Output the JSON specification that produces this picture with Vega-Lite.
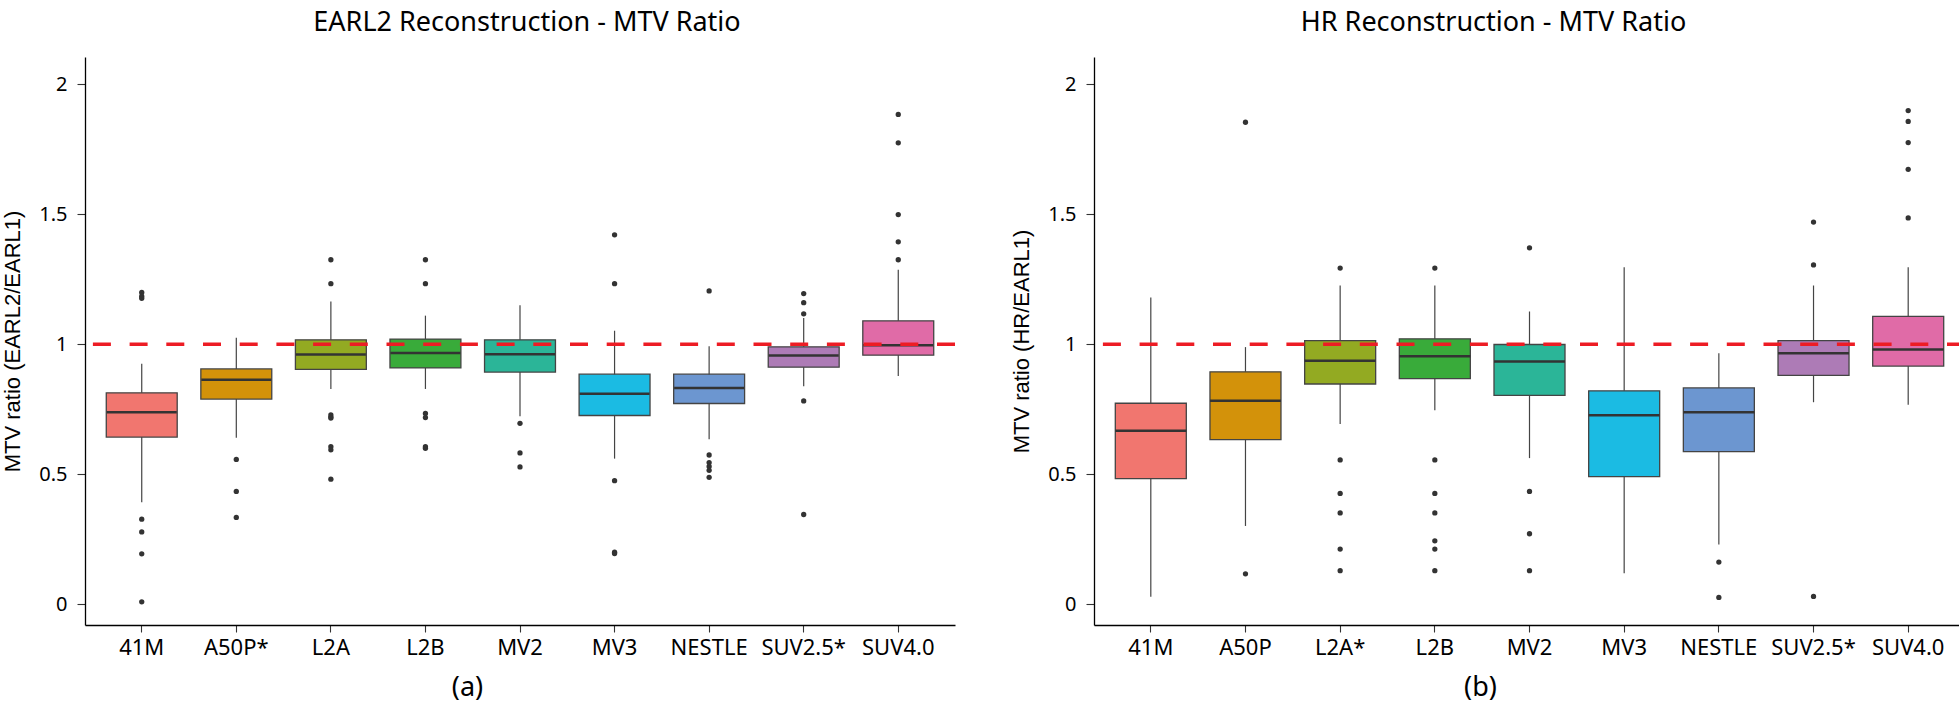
{
  "$schema": "https://vega.github.io/schema/vega-lite/v6.json",
  "background": "white",
  "padding": {"left": 1, "top": 9, "right": 0, "bottom": 4},
  "datasets": {
    "earl2_box": [
      {"label": "41M", "grp": "41M", "lo": 0.392, "q1": 0.643, "med": 0.738, "q3": 0.813, "hi": 0.925},
      {"label": "A50P*", "grp": "A50P", "lo": 0.640, "q1": 0.789, "med": 0.863, "q3": 0.905, "hi": 1.025},
      {"label": "L2A", "grp": "L2A", "lo": 0.828, "q1": 0.903, "med": 0.961, "q3": 1.017, "hi": 1.164},
      {"label": "L2B", "grp": "L2B", "lo": 0.828, "q1": 0.909, "med": 0.966, "q3": 1.020, "hi": 1.110},
      {"label": "MV2", "grp": "MV2", "lo": 0.723, "q1": 0.893, "med": 0.962, "q3": 1.017, "hi": 1.150},
      {"label": "MV3", "grp": "MV3", "lo": 0.560, "q1": 0.726, "med": 0.810, "q3": 0.885, "hi": 1.052},
      {"label": "NESTLE", "grp": "NESTLE", "lo": 0.635, "q1": 0.772, "med": 0.832, "q3": 0.885, "hi": 0.992},
      {"label": "SUV2.5*", "grp": "SUV2.5", "lo": 0.838, "q1": 0.912, "med": 0.957, "q3": 0.990, "hi": 1.101},
      {"label": "SUV4.0", "grp": "SUV4.0", "lo": 0.878, "q1": 0.958, "med": 0.996, "q3": 1.090, "hi": 1.287}
    ],
    "earl2_out": [
      {"label": "41M", "v": 1.199}, {"label": "41M", "v": 1.185}, {"label": "41M", "v": 1.177},
      {"label": "41M", "v": 0.327}, {"label": "41M", "v": 0.278}, {"label": "41M", "v": 0.194}, {"label": "41M", "v": 0.009},
      {"label": "A50P*", "v": 0.557}, {"label": "A50P*", "v": 0.434}, {"label": "A50P*", "v": 0.334},
      {"label": "L2A", "v": 1.325}, {"label": "L2A", "v": 1.233}, {"label": "L2A", "v": 0.728}, {"label": "L2A", "v": 0.720},
      {"label": "L2A", "v": 0.716}, {"label": "L2A", "v": 0.606}, {"label": "L2A", "v": 0.594}, {"label": "L2A", "v": 0.481},
      {"label": "L2B", "v": 1.325}, {"label": "L2B", "v": 1.233}, {"label": "L2B", "v": 0.734}, {"label": "L2B", "v": 0.718},
      {"label": "L2B", "v": 0.606}, {"label": "L2B", "v": 0.600},
      {"label": "MV2", "v": 0.696}, {"label": "MV2", "v": 0.582}, {"label": "MV2", "v": 0.528},
      {"label": "MV3", "v": 1.421}, {"label": "MV3", "v": 1.233}, {"label": "MV3", "v": 0.475}, {"label": "MV3", "v": 0.200}, {"label": "MV3", "v": 0.195},
      {"label": "NESTLE", "v": 1.205}, {"label": "NESTLE", "v": 0.574}, {"label": "NESTLE", "v": 0.545}, {"label": "NESTLE", "v": 0.530},
      {"label": "NESTLE", "v": 0.515}, {"label": "NESTLE", "v": 0.488},
      {"label": "SUV2.5*", "v": 1.195}, {"label": "SUV2.5*", "v": 1.160}, {"label": "SUV2.5*", "v": 1.117}, {"label": "SUV2.5*", "v": 0.782}, {"label": "SUV2.5*", "v": 0.345},
      {"label": "SUV4.0", "v": 1.884}, {"label": "SUV4.0", "v": 1.775}, {"label": "SUV4.0", "v": 1.499}, {"label": "SUV4.0", "v": 1.394}, {"label": "SUV4.0", "v": 1.325}
    ],
    "hr_box": [
      {"label": "41M", "grp": "41M", "lo": 0.029, "q1": 0.483, "med": 0.667, "q3": 0.773, "hi": 1.180},
      {"label": "A50P", "grp": "A50P", "lo": 0.301, "q1": 0.633, "med": 0.783, "q3": 0.894, "hi": 0.989},
      {"label": "L2A*", "grp": "L2A", "lo": 0.693, "q1": 0.847, "med": 0.937, "q3": 1.014, "hi": 1.226},
      {"label": "L2B", "grp": "L2B", "lo": 0.746, "q1": 0.868, "med": 0.954, "q3": 1.021, "hi": 1.226},
      {"label": "MV2", "grp": "MV2", "lo": 0.562, "q1": 0.803, "med": 0.934, "q3": 0.999, "hi": 1.126},
      {"label": "MV3", "grp": "MV3", "lo": 0.119, "q1": 0.491, "med": 0.727, "q3": 0.821, "hi": 1.296},
      {"label": "NESTLE", "grp": "NESTLE", "lo": 0.230, "q1": 0.587, "med": 0.738, "q3": 0.832, "hi": 0.965},
      {"label": "SUV2.5*", "grp": "SUV2.5", "lo": 0.777, "q1": 0.880, "med": 0.965, "q3": 1.014, "hi": 1.226},
      {"label": "SUV4.0", "grp": "SUV4.0", "lo": 0.767, "q1": 0.916, "med": 0.980, "q3": 1.107, "hi": 1.296}
    ],
    "hr_out": [
      {"label": "A50P", "v": 1.854}, {"label": "A50P", "v": 0.117},
      {"label": "L2A*", "v": 1.293}, {"label": "L2A*", "v": 0.555}, {"label": "L2A*", "v": 0.426}, {"label": "L2A*", "v": 0.351},
      {"label": "L2A*", "v": 0.212}, {"label": "L2A*", "v": 0.129},
      {"label": "L2B", "v": 1.293}, {"label": "L2B", "v": 0.555}, {"label": "L2B", "v": 0.426}, {"label": "L2B", "v": 0.351},
      {"label": "L2B", "v": 0.244}, {"label": "L2B", "v": 0.212}, {"label": "L2B", "v": 0.129},
      {"label": "MV2", "v": 1.371}, {"label": "MV2", "v": 0.434}, {"label": "MV2", "v": 0.271}, {"label": "MV2", "v": 0.129},
      {"label": "NESTLE", "v": 0.162}, {"label": "NESTLE", "v": 0.026},
      {"label": "SUV2.5*", "v": 1.470}, {"label": "SUV2.5*", "v": 1.305}, {"label": "SUV2.5*", "v": 0.030},
      {"label": "SUV4.0", "v": 1.899}, {"label": "SUV4.0", "v": 1.857}, {"label": "SUV4.0", "v": 1.776}, {"label": "SUV4.0", "v": 1.673}, {"label": "SUV4.0", "v": 1.486}
    ]
  },
  "spacing": 53,
  "resolve": {"scale": {"x": "independent", "y": "independent"}},
  "hconcat": [
    {
      "title": {"text": "EARL2 Reconstruction - MTV Ratio", "frame": "group", "anchor": "middle", "dx": 7, "offset": 20},
      "width": 870,
      "height": 568,
      "layer": [
        {
          "data": {"name": "earl2_box"},
          "mark": {"type": "rule", "color": "#444", "strokeWidth": 1.2},
          "encoding": {
            "x": {"field": "label", "type": "nominal", "scale": {"domain": ["41M", "A50P*", "L2A", "L2B", "MV2", "MV3", "NESTLE", "SUV2.5*", "SUV4.0"], "paddingInner": 0.25, "paddingOuter": 0.225}, "axis": {"title": "(a)", "labelAngle": 0, "titleX": 382, "titleY": 62}},
            "y": {"field": "lo", "type": "quantitative", "scale": {"domain": [-0.08, 2.105], "nice": false, "zero": false}, "axis": {"title": "MTV ratio (EARL2/EARL1)", "values": [0, 0.5, 1, 1.5, 2], "format": "~g"}},
            "y2": {"field": "hi"}
          }
        },
        {
          "data": {"name": "earl2_box"},
          "mark": {"type": "bar", "stroke": "#444", "strokeWidth": 1.3, "opacity": 1},
          "encoding": {
            "x": {"field": "label", "type": "nominal", "scale": {"domain": ["41M", "A50P*", "L2A", "L2B", "MV2", "MV3", "NESTLE", "SUV2.5*", "SUV4.0"], "paddingInner": 0.25, "paddingOuter": 0.225}, "axis": {"title": "(a)", "labelAngle": 0, "titleX": 382, "titleY": 62}},
            "y": {"field": "q1", "type": "quantitative", "scale": {"domain": [-0.08, 2.105], "nice": false, "zero": false}, "axis": {"title": "MTV ratio (EARL2/EARL1)", "values": [0, 0.5, 1, 1.5, 2], "format": "~g"}},
            "y2": {"field": "q3"},
            "color": {"field": "grp", "type": "nominal", "legend": null, "scale": {"domain": ["41M", "A50P", "L2A", "L2B", "MV2", "MV3", "NESTLE", "SUV2.5", "SUV4.0"], "range": ["#F1766F", "#D3920A", "#93AA22", "#39AB3A", "#2BB598", "#1BBBE3", "#6C96D0", "#AD7BB6", "#E06BA7"]}}
          }
        },
        {
          "data": {"name": "earl2_box"},
          "mark": {"type": "tick", "color": "#333", "thickness": 2.5, "size": 70, "opacity": 1},
          "encoding": {
            "x": {"field": "label", "type": "nominal", "scale": {"domain": ["41M", "A50P*", "L2A", "L2B", "MV2", "MV3", "NESTLE", "SUV2.5*", "SUV4.0"], "paddingInner": 0.25, "paddingOuter": 0.225}, "axis": {"title": "(a)", "labelAngle": 0, "titleX": 382, "titleY": 62}},
            "y": {"field": "med", "type": "quantitative", "scale": {"domain": [-0.08, 2.105], "nice": false, "zero": false}, "axis": {"title": "MTV ratio (EARL2/EARL1)", "values": [0, 0.5, 1, 1.5, 2], "format": "~g"}}
          }
        },
        {
          "data": {"name": "earl2_out"},
          "mark": {"type": "point", "filled": true, "color": "#333", "size": 28, "opacity": 1},
          "encoding": {
            "x": {"field": "label", "type": "nominal", "scale": {"domain": ["41M", "A50P*", "L2A", "L2B", "MV2", "MV3", "NESTLE", "SUV2.5*", "SUV4.0"], "paddingInner": 0.25, "paddingOuter": 0.225}, "axis": {"title": "(a)", "labelAngle": 0, "titleX": 382, "titleY": 62}},
            "y": {"field": "v", "type": "quantitative", "scale": {"domain": [-0.08, 2.105], "nice": false, "zero": false}, "axis": {"title": "MTV ratio (EARL2/EARL1)", "values": [0, 0.5, 1, 1.5, 2], "format": "~g"}}
          }
        },
        {
          "data": {"values": [{"ref": 1}]},
          "mark": {"type": "rule", "color": "#ED1C24", "strokeWidth": 3.3, "strokeDash": [18, 18.7]},
          "encoding": {
            "y": {"field": "ref", "type": "quantitative", "scale": {"domain": [-0.08, 2.105], "nice": false, "zero": false}, "axis": {"title": "MTV ratio (EARL2/EARL1)", "values": [0, 0.5, 1, 1.5, 2], "format": "~g"}}
          }
        }
      ]
    },
    {
      "title": {"text": "HR Reconstruction - MTV Ratio", "frame": "group", "anchor": "middle", "dx": -36, "offset": 20},
      "width": 871,
      "height": 568,
      "layer": [
        {
          "data": {"name": "hr_box"},
          "mark": {"type": "rule", "color": "#444", "strokeWidth": 1.2},
          "encoding": {
            "x": {"field": "label", "type": "nominal", "scale": {"domain": ["41M", "A50P", "L2A*", "L2B", "MV2", "MV3", "NESTLE", "SUV2.5*", "SUV4.0"], "paddingInner": 0.25, "paddingOuter": 0.225}, "axis": {"title": "(b)", "labelAngle": 0, "titleX": 386, "titleY": 62}},
            "y": {"field": "lo", "type": "quantitative", "scale": {"domain": [-0.08, 2.105], "nice": false, "zero": false}, "axis": {"title": "MTV ratio (HR/EARL1)", "values": [0, 0.5, 1, 1.5, 2], "format": "~g"}},
            "y2": {"field": "hi"}
          }
        },
        {
          "data": {"name": "hr_box"},
          "mark": {"type": "bar", "stroke": "#444", "strokeWidth": 1.3, "opacity": 1},
          "encoding": {
            "x": {"field": "label", "type": "nominal", "scale": {"domain": ["41M", "A50P", "L2A*", "L2B", "MV2", "MV3", "NESTLE", "SUV2.5*", "SUV4.0"], "paddingInner": 0.25, "paddingOuter": 0.225}, "axis": {"title": "(b)", "labelAngle": 0, "titleX": 386, "titleY": 62}},
            "y": {"field": "q1", "type": "quantitative", "scale": {"domain": [-0.08, 2.105], "nice": false, "zero": false}, "axis": {"title": "MTV ratio (HR/EARL1)", "values": [0, 0.5, 1, 1.5, 2], "format": "~g"}},
            "y2": {"field": "q3"},
            "color": {"field": "grp", "type": "nominal", "legend": null, "scale": {"domain": ["41M", "A50P", "L2A", "L2B", "MV2", "MV3", "NESTLE", "SUV2.5", "SUV4.0"], "range": ["#F1766F", "#D3920A", "#93AA22", "#39AB3A", "#2BB598", "#1BBBE3", "#6C96D0", "#AD7BB6", "#E06BA7"]}}
          }
        },
        {
          "data": {"name": "hr_box"},
          "mark": {"type": "tick", "color": "#333", "thickness": 2.5, "size": 71, "opacity": 1},
          "encoding": {
            "x": {"field": "label", "type": "nominal", "scale": {"domain": ["41M", "A50P", "L2A*", "L2B", "MV2", "MV3", "NESTLE", "SUV2.5*", "SUV4.0"], "paddingInner": 0.25, "paddingOuter": 0.225}, "axis": {"title": "(b)", "labelAngle": 0, "titleX": 386, "titleY": 62}},
            "y": {"field": "med", "type": "quantitative", "scale": {"domain": [-0.08, 2.105], "nice": false, "zero": false}, "axis": {"title": "MTV ratio (HR/EARL1)", "values": [0, 0.5, 1, 1.5, 2], "format": "~g"}}
          }
        },
        {
          "data": {"name": "hr_out"},
          "mark": {"type": "point", "filled": true, "color": "#333", "size": 28, "opacity": 1},
          "encoding": {
            "x": {"field": "label", "type": "nominal", "scale": {"domain": ["41M", "A50P", "L2A*", "L2B", "MV2", "MV3", "NESTLE", "SUV2.5*", "SUV4.0"], "paddingInner": 0.25, "paddingOuter": 0.225}, "axis": {"title": "(b)", "labelAngle": 0, "titleX": 386, "titleY": 62}},
            "y": {"field": "v", "type": "quantitative", "scale": {"domain": [-0.08, 2.105], "nice": false, "zero": false}, "axis": {"title": "MTV ratio (HR/EARL1)", "values": [0, 0.5, 1, 1.5, 2], "format": "~g"}}
          }
        },
        {
          "data": {"values": [{"ref": 1}]},
          "mark": {"type": "rule", "color": "#ED1C24", "strokeWidth": 3.3, "strokeDash": [18, 18.7]},
          "encoding": {
            "y": {"field": "ref", "type": "quantitative", "scale": {"domain": [-0.08, 2.105], "nice": false, "zero": false}, "axis": {"title": "MTV ratio (HR/EARL1)", "values": [0, 0.5, 1, 1.5, 2], "format": "~g"}}
          }
        }
      ]
    }
  ],
  "config": {
    "view": {"stroke": null},
    "axis": {
      "grid": false,
      "domainColor": "#000",
      "domainWidth": 1.3,
      "tickColor": "#333",
      "tickWidth": 1.1,
      "labelColor": "#000",
      "labelFont": "Noto Sans",
      "titleColor": "#000",
      "titleFontWeight": "normal"
    },
    "axisX": {
      "tickSize": 7,
      "labelFontSize": 22,
      "labelPadding": 5.5,
      "titleFont": "Noto Sans",
      "titleFontSize": 27,
      "titleBaseline": "middle",
      "titleAlign": "center"
    },
    "axisY": {
      "tickSize": 8,
      "labelFontSize": 20,
      "labelPadding": 10,
      "titleFont": "Liberation Sans",
      "titleFontSize": 22,
      "titlePadding": 14
    },
    "title": {"font": "Noto Sans", "fontSize": 27, "fontWeight": "normal", "color": "#000"}
  }
}
